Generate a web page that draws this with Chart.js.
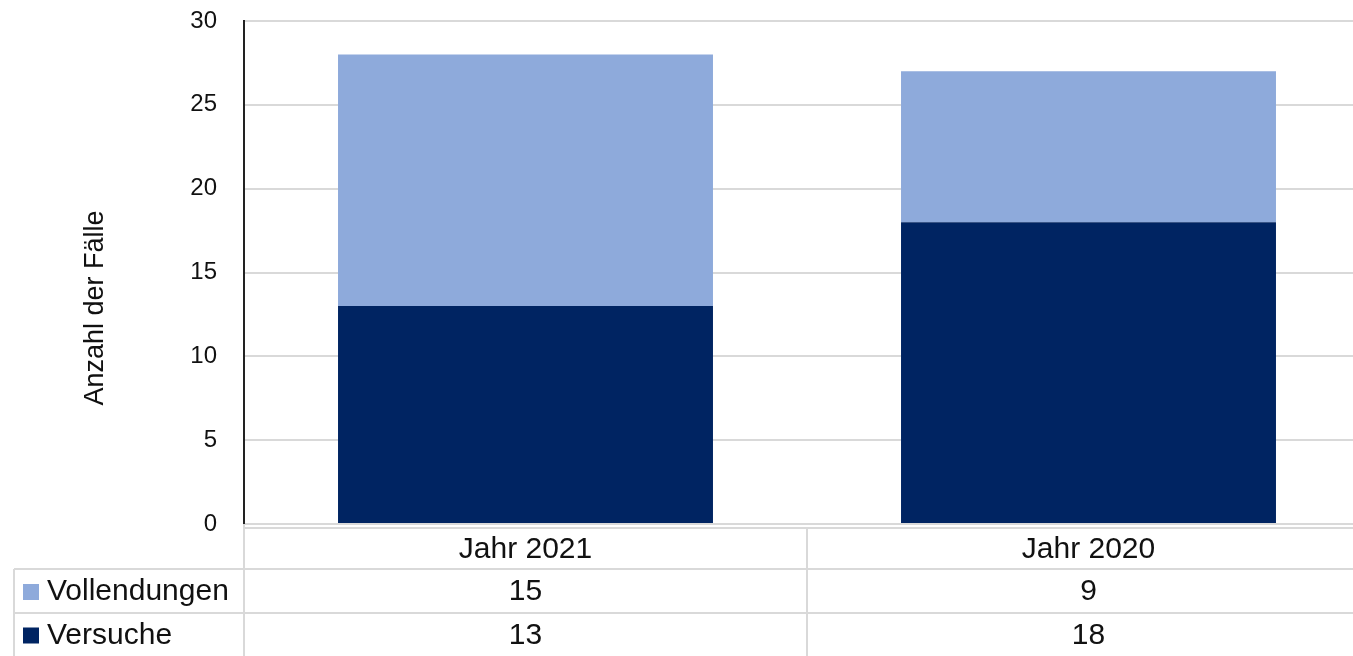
<!DOCTYPE html>
<html lang="de">
<head>
<meta charset="utf-8">
<script src="https://cdn.jsdelivr.net/npm/chart.js@4"></script>
<style>
  html, body { margin: 0; padding: 0; background: #fff; overflow: hidden; }
  #wrap { position: relative; width: 1380px; height: 656px; }
</style>
</head>
<body>
<div id="wrap"><canvas id="faelle"></canvas></div>
<script>
(() => {
    'use strict';

    const categories = ['Jahr 2021', 'Jahr 2020'];
    const vollendungen = [15, 9];
    const versuche = [13, 18];
    const yTicks = [0, 5, 10, 15, 20, 25, 30];
    const yTitle = 'Anzahl der Fälle';

    const light = '#8eaadb';
    const navy = '#002462';
    const grid = '#d9d9d9';
    const text = '#111';
    const font = '"Liberation Sans", Arial, sans-serif';

    // table rows under the plot, same order as in the picture
    const rows = [
        { label: 'Vollendungen', color: light, values: vollendungen },
        { label: 'Versuche', color: navy, values: versuche }
    ];

    const dataTable = {
        id: 'dataTable',
        afterDraw(chart) {
            const { ctx, chartArea: area, scales: { x } } = chart;
            const half = (x.getPixelForValue(1) - x.getPixelForValue(0)) / 2;
            const left = area.left, right = chart.width;
            const tableLeft = 14;
            const yHead = area.bottom + 4, yRow1 = 569, yRow2 = 613, yEnd = chart.height;

            ctx.save();
            ctx.strokeStyle = grid;
            ctx.lineWidth = 2;
            const line = (x1, y1, x2, y2) => { ctx.beginPath(); ctx.moveTo(x1, y1); ctx.lineTo(x2, y2); ctx.stroke(); };
            line(left, yHead, right, yHead);
            line(tableLeft, yRow1, right, yRow1);
            line(tableLeft, yRow2, right, yRow2);
            line(tableLeft, yRow1, tableLeft, yEnd);
            line(left, area.bottom, left, yEnd);
            categories.forEach((_, i) => {
                const edge = x.getPixelForValue(i) + half;
                line(edge, yHead, edge, yEnd);
            });

            ctx.fillStyle = text;
            ctx.font = '30px ' + font;
            ctx.textAlign = 'center';
            ctx.textBaseline = 'middle';
            categories.forEach((c, i) => ctx.fillText(c, x.getPixelForValue(i), (yHead + yRow1) / 2 + 1));

            const rowMid = [(yRow1 + yRow2) / 2 + 1, (yRow2 + yEnd) / 2 + 1];
            rows.forEach((r, k) => {
                ctx.fillStyle = r.color;
                ctx.fillRect(23, rowMid[k] - 8, 16, 16);
                ctx.fillStyle = text;
                ctx.textAlign = 'left';
                ctx.fillText(r.label, 47, rowMid[k]);
                ctx.textAlign = 'center';
                r.values.forEach((v, i) => ctx.fillText(String(v), x.getPixelForValue(i), rowMid[k]));
            });

            // axis title
            ctx.translate(96, 308);
            ctx.rotate(-Math.PI / 2);
            ctx.font = '27px ' + font;
            ctx.fillText(yTitle, 0, 0);
            ctx.restore();
        }
    };

    new Chart(document.getElementById('faelle'), {
        type: 'bar',
        data: {
            labels: categories,
            datasets: [
                { label: 'Versuche', data: versuche, backgroundColor: navy, categoryPercentage: 1, barPercentage: 0.666 },
                { label: 'Vollendungen', data: vollendungen, backgroundColor: light, categoryPercentage: 1, barPercentage: 0.666 }
            ]
        },
        options: {
            responsive: true,
            maintainAspectRatio: false,
            animation: false,
            layout: { autoPadding: false, padding: { top: 21, right: 10, bottom: 132, left: 0 } },
            plugins: {
                legend: { display: false },
                tooltip: { enabled: false }
            },
            scales: {
                x: { stacked: true, display: false },
                y: {
                    stacked: true,
                    min: 0,
                    max: 30,
                    afterFit: s => { s.width = 244; s.paddingTop = 0; s.paddingBottom = 0; },
                    afterBuildTicks: s => { s.ticks = yTicks.map(v => ({ value: v })); },
                    border: { display: true, color: '#222', width: 2 },
                    grid: { color: grid, lineWidth: 2, drawTicks: false },
                    ticks: { color: text, padding: 27, font: { family: font, size: 24 } }
                }
            }
        },
        plugins: [dataTable]
    });
})();
</script>
</body>
</html>
